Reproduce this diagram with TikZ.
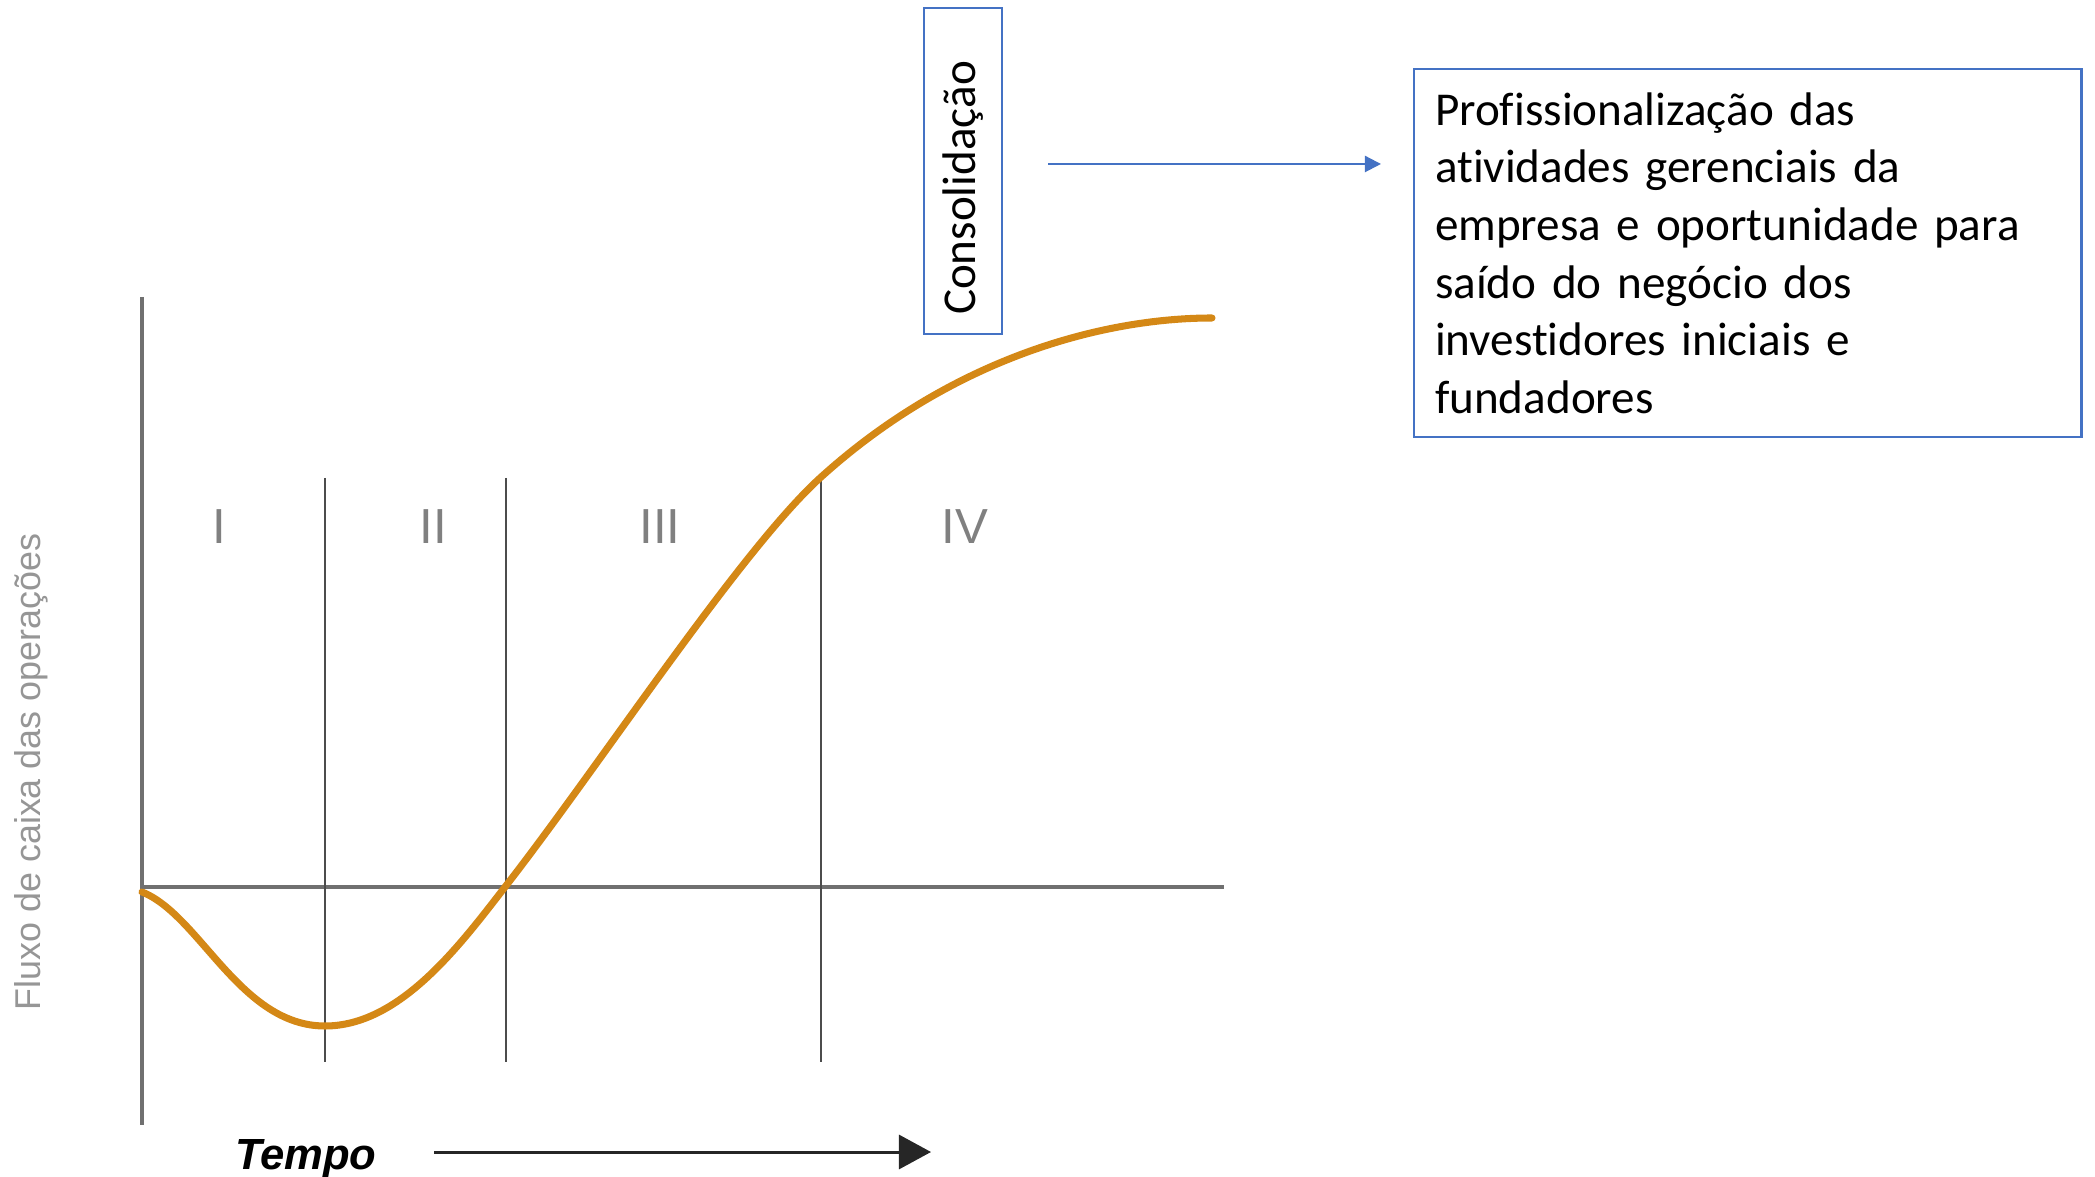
\documentclass[tikz,border=0pt]{standalone}
\usepackage{fontspec}
\setmainfont{Liberation Sans}
\newfontfamily\calibri[Ligatures=NoCommon]{Carlito}
\usetikzlibrary{arrows.meta,positioning}

\definecolor{curveorange}{RGB}{212,136,22}
\definecolor{boxblue}{RGB}{68,114,196}
\definecolor{axisgray}{RGB}{112,112,112}
\definecolor{labelgray}{RGB}{150,150,150}

\begin{document}
\begin{tikzpicture}[x=0.01cm,y=-0.01cm,
   axis/.style={axisgray,line width=1pt},
   phase/.style={black!70,line width=0.8pt},
   roman/.style={labelgray!85!black,font=\fontsize{14}{14}\selectfont},
   bluebox/.style={draw=boxblue,line width=0.6pt,font=\calibri\fontsize{13.4}{16.4}\selectfont}]
   \useasboundingbox (0,0) rectangle (2095,1177);
   % axes and phases
   \draw[axis] (142,297) -- (142,1125);
   \draw[axis] (142,887) -- (1224,887);
   \foreach \x in {325,506,821}
      \draw[phase] (\x,478) -- (\x,1062);
   \node[roman] (f1) at (219,527) {I};
   \node[roman] (f2) at (433,527) {II};
   \node[roman] (f3) at (660,527) {III};
   \node[roman] (f4) at (965,527) {IV};
   \node[rotate=90,labelgray,font=\fontsize{10.2}{10.2}\selectfont] (fluxo) at (31,772) {Fluxo de caixa das operações};
   % cash flow curve
   \draw[curveorange,line width=2pt,line cap=round] (142,892)
      .. controls (200,915) and (240,1026) .. (325,1026)
      .. controls (400,1026) and (460,945) .. (505,887)
      .. controls (600,765) and (740,551) .. (820,478)
      .. controls (950,360) and (1100,318) .. (1212,318);
   % time arrow
   \coordinate (t0) at (434,1152);
   \coordinate (t1) at (931,1152);
   \draw[black!85,line width=0.85pt,-{Triangle[length=0.32cm,width=0.34cm]}] (t0) -- (t1);
   \node[font=\bfseries\itshape\fontsize{12.4}{12.4}\selectfont,yshift=-0.07cm] (tempo) [left=0.45cm of t0] {Tempo};
   % boxes
   \node[bluebox,rotate=90,minimum width=3.26cm,minimum height=0.78cm,inner sep=0pt] (cons) at (963,171) {Consolidação\hspace*{0.34cm}};
   \node[bluebox,anchor=north west,text width=6.25cm,minimum height=3.68cm,inner sep=0.21cm,align=left] (prof) at (1413,68)
      {Profissionalização das\\ atividades gerenciais da\\ empresa e oportunidade para\\ saído do negócio dos\\ investidores iniciais e\\ fundadores};
   \coordinate (c1) at ([xshift=0.45cm,yshift=0.07cm]cons.south);
   \draw[boxblue,line width=0.6pt,-{Triangle[length=0.16cm,width=0.16cm]},shorten >=0.32cm] (c1) -- (prof.west |- c1);
\end{tikzpicture}
\end{document}
